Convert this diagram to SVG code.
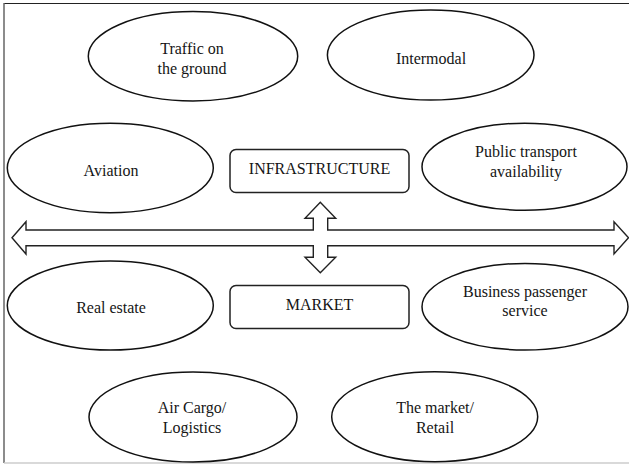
<svg xmlns="http://www.w3.org/2000/svg" width="629" height="465" viewBox="0 0 629 465">
<style>
.ell{fill:#fff;stroke:#111;stroke-width:1.5}
.box{fill:#fff;stroke:#222;stroke-width:1.5}
.lbl{font-family:"Liberation Serif","Times New Roman",serif;font-size:16px;fill:#151515;text-anchor:middle}
.arr{fill:#fff;stroke:#222;stroke-width:1.4;stroke-linejoin:miter}
</style>
<rect x="0" y="0" width="629" height="465" fill="#fff"/>
<g id="frame">
<line x1="4" y1="3.5" x2="629" y2="3.5" stroke="#222" stroke-width="1.2"/>
<line x1="4" y1="3" x2="4" y2="463" stroke="#666" stroke-width="1.5"/>
<line x1="4" y1="463" x2="629" y2="463" stroke="#ccc" stroke-width="1.5"/>
</g>
<g id="connectors">
<path class="arr" d="M12 237.8 L26 221.7 L26 230 L313.3 230 L313.3 218.3 L305 218.3 L320.3 202.3 L335.7 218.3 L327.7 218.3 L327.7 230 L614 230 L614 221.7 L628.5 237.8 L614 254 L614 245.7 L327.7 245.7 L327.7 257.3 L335.7 257.3 L320.3 272.8 L305 257.3 L313.3 257.3 L313.3 245.7 L26 245.7 L26 254 Z"/>
</g>
<g id="traffic">
<ellipse class="ell" cx="193" cy="56.3" rx="104.7" ry="44.7"/>
<text class="lbl" x="192" y="54">Traffic on</text>
<text class="lbl" x="192" y="74">the ground</text>
</g>
<g id="intermodal">
<ellipse class="ell" cx="430.7" cy="55" rx="103.3" ry="45"/>
<text class="lbl" x="431" y="64">Intermodal</text>
</g>
<g id="aviation">
<ellipse class="ell" cx="110.3" cy="168" rx="103" ry="44.7"/>
<text class="lbl" x="111" y="175.5">Aviation</text>
</g>
<g id="infrastructure">
<rect class="box" x="230" y="149.5" width="179" height="43" rx="6"/>
<text class="lbl" x="319.5" y="174.3">INFRASTRUCTURE</text>
</g>
<g id="public-transport">
<ellipse class="ell" cx="524.5" cy="166.7" rx="102.5" ry="43.5"/>
<text class="lbl" x="526" y="156.5">Public transport</text>
<text class="lbl" x="526" y="176.5">availability</text>
</g>
<g id="real-estate">
<ellipse class="ell" cx="110.3" cy="305.5" rx="103" ry="44.5"/>
<text class="lbl" x="111" y="313">Real estate</text>
</g>
<g id="market">
<rect class="box" x="230" y="285.5" width="179" height="43" rx="6"/>
<text class="lbl" x="319.5" y="310">MARKET</text>
</g>
<g id="business">
<ellipse class="ell" cx="525" cy="306.7" rx="103" ry="43.3"/>
<text class="lbl" x="525" y="297">Business passenger</text>
<text class="lbl" x="525" y="316">service</text>
</g>
<g id="air-cargo">
<ellipse class="ell" cx="193" cy="417" rx="104" ry="45"/>
<text class="lbl" x="192" y="413">Air Cargo/</text>
<text class="lbl" x="192" y="433">Logistics</text>
</g>
<g id="retail">
<ellipse class="ell" cx="434.7" cy="416.7" rx="103" ry="45"/>
<text class="lbl" x="435" y="413">The market/</text>
<text class="lbl" x="435" y="433">Retail</text>
</g>
</svg>
